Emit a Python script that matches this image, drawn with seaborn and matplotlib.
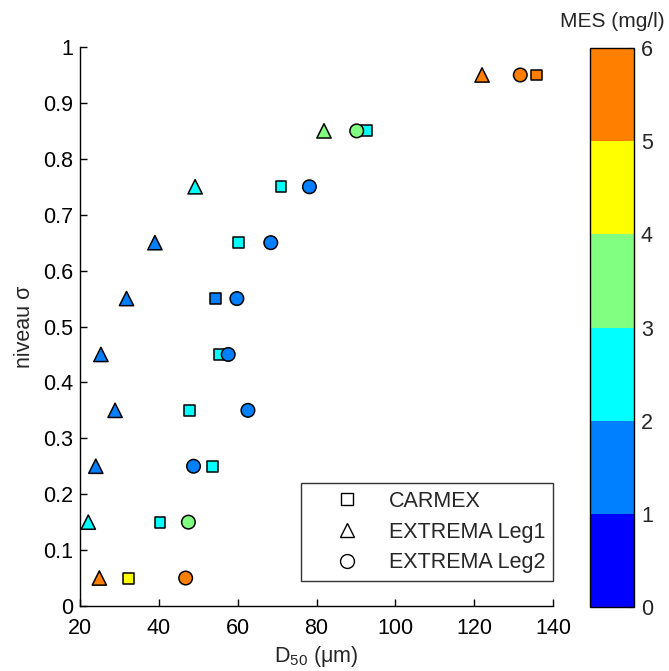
import numpy as np
import pandas as pd
import matplotlib
matplotlib.use("Agg")
import matplotlib.pyplot as plt
import seaborn as sns
from matplotlib.colors import ListedColormap, BoundaryNorm
from matplotlib.lines import Line2D

# --------------------------------------------------------------------------------
# Data
# --------------------------------------------------------------------------------

Niveaux = [0.05, 0.15, 0.25, 0.35, 0.45, 0.55, 0.65, 0.75, 0.85, 0.95]

D50_CARMEX = [32.3, 40.3, 53.6, 47.8, 55.3, 54.4, 60.2, 71.0, 92.6, 135.7]
MES_CARMEX = [4.5, 2.5, 2.5, 2.5, 2.5, 1.5, 2.5, 2.5, 2.5, 5.5]

D50_Leg1 = [24.9, 22.1, 24.0, 28.9, 25.3, 31.8, 39.0, 49.2, 81.9, 122.0]
MES_Leg1 = [5.5, 2.5, 1.5, 1.5, 1.5, 1.5, 1.5, 2.5, 3.5, 5.5]

D50_Leg2 = [46.8, 47.5, 48.8, 62.6, 57.6, 59.8, 68.4, 78.2, 90.2, 131.7]
MES_Leg2 = [5.5, 3.5, 1.5, 1.5, 1.5, 1.5, 1.5, 1.5, 3.5, 5.5]

Campagnes = ["CARMEX", "EXTREMA Leg1", "EXTREMA Leg2"]
Couleurs_MES = ["#0000ff", "#0080ff", "#00ffff", "#80ff80", "#ffff00", "#ff8000"]
Bornes_MES = [0, 1, 2, 3, 4, 5, 6]

X_Ticks = [20, 40, 60, 80, 100, 120, 140]
Y_Ticks = [0, 0.1, 0.2, 0.3, 0.4, 0.5, 0.6, 0.7, 0.8, 0.9, 1]
Y_Labels = ["0", "0.1", "0.2", "0.3", "0.4", "0.5", "0.6", "0.7", "0.8", "0.9", "1"]

# --------------------------------------------------------------------------------
# Build the table
# --------------------------------------------------------------------------------

df = pd.DataFrame({
    "D50": D50_CARMEX + D50_Leg1 + D50_Leg2,
    "Niveau": Niveaux * 3,
    "MES": MES_CARMEX + MES_Leg1 + MES_Leg2,
    "Campagne": [c for c in Campagnes for _ in Niveaux],
})

Cmap = ListedColormap(Couleurs_MES)
Norm = BoundaryNorm(Bornes_MES, Cmap.N)
Palette = {v: Cmap(Norm(v)) for v in sorted(df["MES"].unique())}

Markers = {"CARMEX": "s", "EXTREMA Leg1": "^", "EXTREMA Leg2": "o"}
Sizes = {"CARMEX": 62, "EXTREMA Leg1": 105, "EXTREMA Leg2": 95}

# --------------------------------------------------------------------------------
# Figure
# --------------------------------------------------------------------------------

sns.set_style("white")
plt.rcParams["font.family"] = ["Liberation Sans", "DejaVu Sans"]
plt.rcParams["mathtext.default"] = "regular"
plt.rcParams["mathtext.fontset"] = "custom"
plt.rcParams["mathtext.rm"] = "Liberation Sans"

FS = 15.5

fig = plt.figure(figsize = (6.69, 6.71), dpi = 100)
ax = fig.add_axes([0.1196, 0.0969, 0.707, 0.833])
cax = fig.add_axes([0.8819, 0.0954, 0.0658, 0.833])

sns.scatterplot(data = df, x = "D50", y = "Niveau", hue = "MES", palette = Palette,
                style = "Campagne", markers = Markers, size = "Campagne", sizes = Sizes,
                edgecolor = "black", linewidth = 1.1, legend = False, ax = ax, zorder = 3)

ax.set_xlim(20, 140)
ax.set_ylim(0, 1)
ax.set_xticks(X_Ticks)
ax.set_yticks(Y_Ticks)
ax.set_yticklabels(Y_Labels)
ax.tick_params(direction = "in", length = 5, width = 1, labelsize = FS, colors = "black",
               bottom = True, left = True)
ax.tick_params(axis = "x", pad = 9)
ax.tick_params(axis = "y", pad = 5)
for s in ["top", "right"]:
    ax.spines[s].set_visible(False)
for s in ["left", "bottom"]:
    ax.spines[s].set_color("black")
    ax.spines[s].set_linewidth(1)

ax.set_xlabel("D$_{50}$ (\u03bcm)", fontsize = FS, labelpad = 3)
ax.set_ylabel("niveau \u03c3", fontsize = FS, labelpad = 6)

Handles = [Line2D([], [], linestyle = "none", marker = Markers[c], markersize = 10 if c != "CARMEX" else 8,
                  markerfacecolor = "white", markeredgecolor = "black", markeredgewidth = 1)
           for c in Campagnes]
Leg = ax.legend(Handles, Campagnes, loc = "lower right", bbox_to_anchor = (1.0, 0.0447),
                borderaxespad = 0, fontsize = FS, frameon = True, fancybox = False,
                edgecolor = "black", handletextpad = 0.2, borderpad = 0.36,
                labelspacing = 0.45, handlelength = 3.5)
Leg.get_frame().set_linewidth(1)

# --------------------------------------------------------------------------------
# Colorbar
# --------------------------------------------------------------------------------

SM = plt.cm.ScalarMappable(cmap = Cmap, norm = Norm)
Cb = fig.colorbar(SM, cax = cax, ticks = Bornes_MES)
Cb.ax.tick_params(direction = "in", length = 4, labelsize = FS, pad = 5)
Cb.outline.set_linewidth(1)
Cb.outline.set_edgecolor("black")
cax.set_title("MES (mg/l)", fontsize = 15, pad = 15)

fig.savefig("out.png", dpi = 100)
